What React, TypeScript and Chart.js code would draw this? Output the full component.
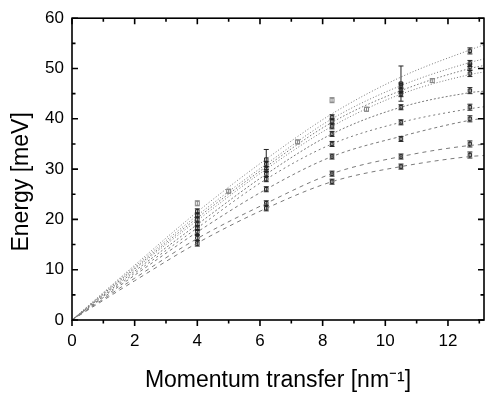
import React, { useEffect, useRef } from "react";
import { Chart, registerables } from "chart.js";

Chart.register(...registerables);

// Fitted dispersion curves, read at these momentum values
const curveQ = [0, 2, 4, 6.2, 8.3, 10.5, 12.7, 13.15];
const curve1 = [0, 10.9, 21.5, 32.0, 41.0, 48.3, 53.7, 54.7];
const curve2 = [0, 10.6, 20.8, 31.0, 40.0, 46.6, 51.2, 51.9];
const curve3 = [0, 10.3, 20.3, 30.5, 39.3, 45.6, 50.0, 50.6];
const curve4 = [0, 10.1, 19.8, 30.0, 38.5, 44.9, 48.8, 49.3];
const curve5 = [0, 9.7, 19.0, 29.0, 37.0, 42.3, 45.2, 45.5];
const curve6 = [0, 9.3, 18.3, 28.0, 35.0, 39.3, 42.0, 42.4];
const curve7 = [0, 8.9, 17.5, 26.0, 32.5, 36.5, 39.7, 40.1];
const curve8 = [0, 8.3, 16.2, 23.2, 29.1, 32.5, 34.7, 34.9];
const curve9 = [0, 7.8, 15.3, 22.2, 27.5, 30.5, 32.5, 32.7];
const curves = [curve1, curve2, curve3, curve4, curve5, curve6, curve7, curve8, curve9];
const curveDashes = [[1, 2], [1, 2], [1.5, 2], [1, 2], [2, 2], [2, 3], [3, 3], [4, 4], [4, 4]];

// Measured points (black markers) per momentum column
const colQ = [4, 6.2, 8.3, 10.5, 12.7];
const eAt4 = [21.6, 20.8, 20.0, 19.0, 18.3, 17.5, 16.3, 15.2];
const eAt6 = [31.9, 31.0, 30.0, 29.0, 28.0, 26.0, 23.2, 22.2];
const eAt8 = [40.3, 39.5, 38.5, 37.0, 35.0, 32.5, 29.1, 27.5];
const eAt10 = [47.0, 46.6, 45.6, 44.9, 42.3, 39.3, 36.0, 32.5, 30.5];
const eAt12 = [53.5, 51.0, 50.3, 49.0, 45.6, 42.3, 40.0, 35.0, 32.8];
const errAt4 = [0.5, 0.5, 0.5, 0.5, 0.5, 0.5, 0.5, 0.5];
const errAt6 = [2.0, 0.5, 0.5, 0.5, 0.5, 0.5, 0.5, 0.5];
const errAt8 = [0.5, 0.5, 0.5, 0.5, 0.5, 0.5, 0.5, 0.5];
const errAt10 = [3.5, 0.5, 0.5, 0.5, 0.5, 0.5, 0.5, 0.5, 0.5];
const errAt12 = [0.6, 0.6, 0.6, 0.6, 0.6, 0.6, 0.6, 0.6, 0.6];
const colE = [eAt4, eAt6, eAt8, eAt10, eAt12];
const colErr = [errAt4, errAt6, errAt8, errAt10, errAt12];

// Open (gray) squares
const openQ = [4, 5, 7.2, 8.3, 9.4, 11.5];
const openE = [23.2, 25.6, 35.4, 43.7, 41.9, 47.6];
const openErr = [0.5, 0.4, 0.4, 0.5, 0.4, 0.4];

// Axis ticks
const xMajor = [0, 2, 4, 6, 8, 10, 12];
const xMinor = [1, 3, 5, 7, 9, 11, 13];
const yMajor = [0, 10, 20, 30, 40, 50, 60];
const yMinor = [5, 15, 25, 35, 45, 55];

const FONT = "'Liberation Sans', Arial, Helvetica, sans-serif";

const errorBarPlugin = {
  id: "errorBars",
  afterDatasetsDraw(chart: any) {
    const ctx = chart.ctx;
    const xs = chart.scales.x;
    const ys = chart.scales.y;
    chart.data.datasets.forEach((ds: any) => {
      if (!ds.errors) return;
      ctx.save();
      ctx.strokeStyle = ds.borderColor;
      ctx.lineWidth = 1;
      ds.data.forEach((p: any, i: number) => {
        const e = ds.errors[i];
        const px = xs.getPixelForValue(p.x);
        const y1 = ys.getPixelForValue(p.y + e);
        const y2 = ys.getPixelForValue(p.y - e);
        ctx.beginPath();
        ctx.moveTo(px, y1);
        ctx.lineTo(px, y2);
        ctx.moveTo(px - 2.5, y1);
        ctx.lineTo(px + 2.5, y1);
        ctx.moveTo(px - 2.5, y2);
        ctx.lineTo(px + 2.5, y2);
        ctx.stroke();
      });
      ctx.restore();
    });
  },
};

const framePlugin = {
  id: "frame",
  afterDraw(chart: any) {
    const ctx = chart.ctx;
    const { left, right, top, bottom } = chart.chartArea;
    const xs = chart.scales.x;
    const ys = chart.scales.y;
    ctx.save();
    ctx.strokeStyle = "#000";
    ctx.lineWidth = 1.6;
    ctx.strokeRect(left, top, right - left, bottom - top);
    ctx.beginPath();
    const xt = (v: number, len: number) => {
      const px = xs.getPixelForValue(v);
      if (px < left - 0.5 || px > right + 0.5) return;
      ctx.moveTo(px, bottom);
      ctx.lineTo(px, bottom + len);
      ctx.moveTo(px, top);
      ctx.lineTo(px, top + len);
    };
    const yt = (v: number, len: number) => {
      const py = ys.getPixelForValue(v);
      ctx.moveTo(left, py);
      ctx.lineTo(left + len, py);
      ctx.moveTo(right, py);
      ctx.lineTo(right - len, py);
    };
    xMajor.forEach((v) => xt(v, 6));
    xMinor.forEach((v) => xt(v, 3.5));
    yMajor.forEach((v) => yt(v, 6));
    yMinor.forEach((v) => yt(v, 3.5));
    ctx.stroke();
    ctx.restore();
  },
};

export default function App() {
  const ref = useRef<HTMLCanvasElement | null>(null);

  useEffect(() => {
    if (!ref.current) return;
    const datasets: any[] = [];
    curves.forEach((c, i) => {
      datasets.push({
        type: "line",
        data: curveQ.map((q, j) => ({ x: q, y: c[j] })),
        borderColor: "#7a7a7a",
        borderWidth: 1,
        borderDash: curveDashes[i],
        pointRadius: 0,
        fill: false,
        cubicInterpolationMode: "monotone",
      });
    });
    colQ.forEach((q, i) => {
      datasets.push({
        type: "scatter",
        data: colE[i].map((e) => ({ x: q, y: e })),
        errors: colErr[i],
        borderColor: "#222",
        backgroundColor: "rgba(255,255,255,0)",
        pointStyle: "rect",
        pointRadius: 2.4,
        borderWidth: 1,
      });
    });
    datasets.push({
      type: "scatter",
      data: openQ.map((q, j) => ({ x: q, y: openE[j] })),
      errors: openErr,
      borderColor: "#888",
      backgroundColor: "rgba(255,255,255,0)",
      pointStyle: "rect",
      pointRadius: 2.8,
      borderWidth: 1,
    });

    const chart = new Chart(ref.current, {
      type: "scatter",
      data: { datasets },
      options: {
        responsive: false,
        animation: false,
        layout: { padding: { top: 14, right: 1, left: 0, bottom: 0 } },
        plugins: { legend: { display: false }, tooltip: { enabled: false } },
        scales: {
          x: {
            type: "linear",
            min: 0,
            max: 13.15,
            grid: { display: false, drawTicks: false },
            border: { display: false },
            afterBuildTicks: (s: any) => {
              s.ticks = xMajor.map((v) => ({ value: v }));
            },
            afterFit: (s: any) => {
              s.height = 78;
            },
            ticks: {
              color: "#000",
              font: { family: FONT, size: 17 },
              padding: 11,
              maxRotation: 0,
              autoSkip: false,
            },
            title: {
              display: true,
              text: "Momentum transfer [nm\u207B\u00B9]",
              color: "#000",
              font: { family: FONT, size: 23 },
              padding: { top: 0, bottom: 4 },
            },
          },
          y: {
            type: "linear",
            min: 0,
            max: 60,
            grid: { display: false, drawTicks: false },
            border: { display: false },
            afterBuildTicks: (s: any) => {
              s.ticks = yMajor.map((v) => ({ value: v }));
            },
            afterFit: (s: any) => {
              s.width = 72;
            },
            ticks: {
              color: "#000",
              font: { family: FONT, size: 17 },
              padding: 8,
              autoSkip: false,
            },
            title: {
              display: true,
              text: "Energy [meV]    ",
              color: "#000",
              font: { family: FONT, size: 23 },
              padding: { top: 8, bottom: 0 },
            },
          },
        },
      },
      plugins: [errorBarPlugin, framePlugin],
    } as any);
    return () => chart.destroy();
  }, []);

  return (
    <div style={{ position: "absolute", left: 0, top: 0, width: 489, height: 398, background: "#fff" }}>
      <canvas ref={ref} width={489} height={398} style={{ display: "block" }} />
    </div>
  );
}
